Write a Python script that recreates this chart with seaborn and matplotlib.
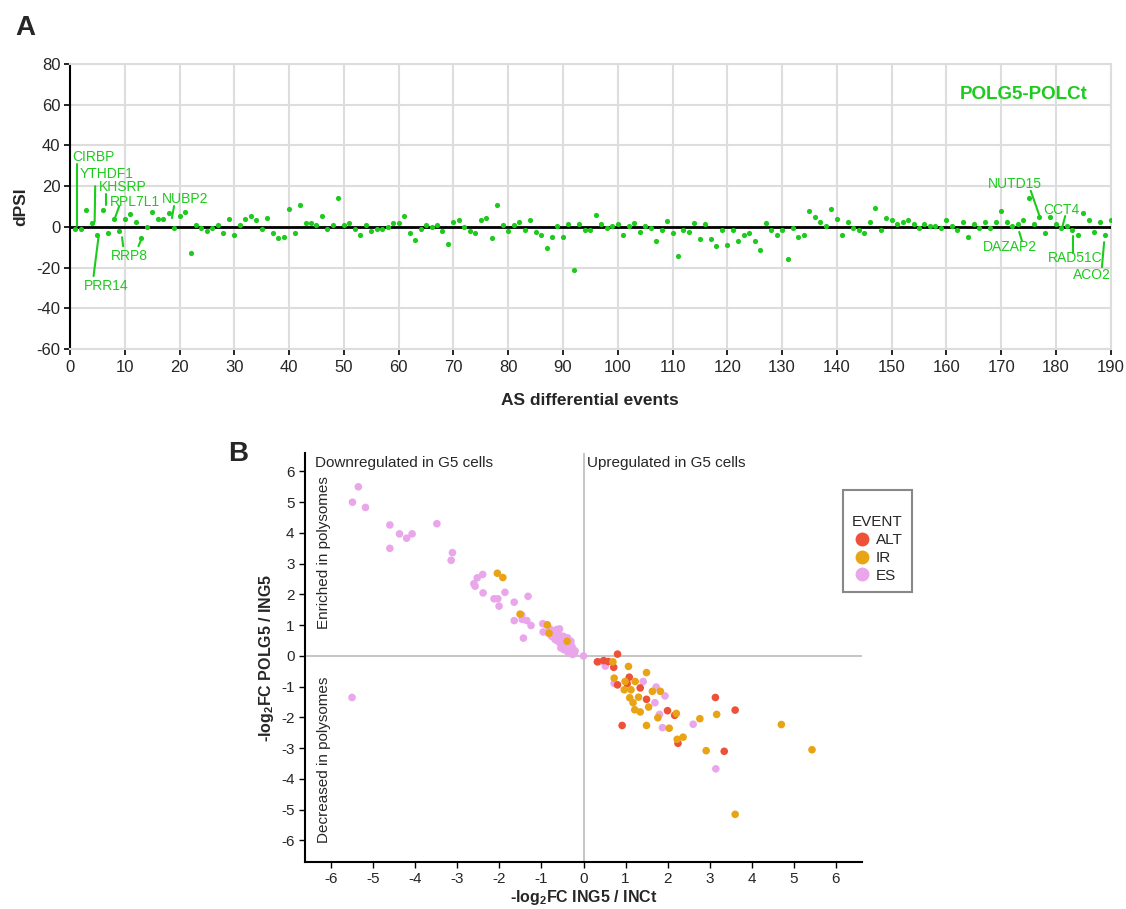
import numpy as np
import pandas as pd
import seaborn as sns
import matplotlib.pyplot as plt
from matplotlib.lines import Line2D

# ---- panel A data: dPSI per AS differential event (1..190)
dpsi = [-1, -1, 8.3, 1.7, -3.8, 8.3, -2.8, 3.7, -2, 3.7,
        6.3, 2.5, -5.3, -0.3, 7.2, 3.7, 3.7, 7, -0.8, 5.3,
        7.5, -13, 0.8, -0.8, -2, -0.8, 0.8, -2.8, 3.7, -4.2,
        0.8, 3.7, 5.4, 3.5, -1.2, 4.5, -2.8, -5.6, -4.8, 8.8,
        -2.8, 10.7, 1.7, 1.7, 0.8, 5.3, -1.2, 0.8, 14.4, 0.8,
        1.7, -1.2, -3.8, 0.8, -2, -1.2, -1.2, -0.2, 1.7, 1.7,
        5.3, -2.8, -6.6, -1.2, 0.8, -0.2, 0.8, -2, -8.4, 2.5,
        3.5, -0.2, -2, -2.8, 3.5, 4.5, -5.6, 10.7, 0.8, -2,
        0.8, 2.5, -1.3, 3.2, -2.3, -4.1, -10.6, -5, 0.5, -5,
        1.3, -21.3, 1.3, -1.5, -1.5, 6, 1.3, -0.5, 0.5, 1.3,
        -4.1, 0.5, 2.1, -2.3, 0.5, -0.5, -6.9, -1.5, 3.1, -3.1,
        -14.2, -1.5, -2.3, 2.1, -6, 1.3, -6, -9.6, -1.5, -8.8,
        -1.5, -6.9, -4.1, -3.1, -6.9, -11.4, 2.1, -1.5, -4.1, -1.5,
        -16, -0.5, -4.8, -4.2, 7.7, 5, 2.3, 0.5, 8.7, 4,
        -4.2, 2.3, -0.5, -1.3, -3.2, 2.3, 9.5, -1.3, 4.2, 3.2,
        1.3, 2.3, 3.2, 1.3, -0.5, 1.3, 0.5, 0.5, -0.5, 3.2,
        0.5, -1.3, 2.3, -5, 1.3, -0.5, 2.3, -0.5, 2.3, 7.8,
        2.3, 0.5, 1.3, 3.2, 14.2, 1.3, 5, -3.2, 5, 1.3,
        -0.5, 0.5, -1.3, -4.2, 6.8, 3.2, -2.3, 2.3, -4.2, 3.2]
events = list(range(1, len(dpsi) + 1))

gene_names = ['CIRBP', 'YTHDF1', 'KHSRP', 'RPL7L1', 'NUBP2', 'PRR14', 'RRP8',
              'NUTD15', 'CCT4', 'DAZAP2', 'RAD51C', 'ACO2']
# label anchor (left, centre) and leader lines, in data units
label_pos = [(0.5, 34.5), (1.8, 26.1), (5.3, 19.5), (7.3, 12.1), (16.8, 13.9),
             (2.6, -29.1), (7.5, -14.4), (167.6, 21.2), (177.7, 8.4),
             (166.6, -10.0), (178.6, -15.4), (183.1, -23.7)]
leaders = [[((1.2, 0.5), (1.2, 30.8))],
           [((4.5, 2.5), (4.6, 20.0))],
           [((6.5, 10.7), (6.5, 16.1))],
           [((9.0, 10.2), (8.2, 4.3))],
           [((19.0, 10.2), (18.6, 4.3))],
           [((5.2, -5.1), (4.3, -24.2))],
           [((9.5, -5.1), (9.7, -9.5)), ((13.1, -5.6), (12.5, -9.5))],
           [((175.4, 17.7), (177.0, 5.4))],
           [((181.7, 5.3), (181.2, 0.3))],
           [((173.3, -2.5), (173.8, -6.9))],
           [((183.1, -4.7), (183.1, -12.6))],
           [((188.8, -7.5), (188.4, -19.8))]]

# ---- panel B data
es_x = [-5.50, -5.36, -5.19, -4.61, -4.61, -4.38, -4.21, -4.08, -3.49, -3.12,
        -3.15, -2.61, -2.58, -2.53, -2.40, -2.39, -2.13, -2.04, -2.01, -1.87,
        -1.65, -1.32, -1.65, -1.47, -1.46, -1.35, -1.25, -1.43, -0.97, -0.88,
        -0.96, -0.80, -0.72, -0.64, -0.57, -0.68, -0.56, -0.48, -0.44, -0.38,
        -0.34, -0.28, -0.24, -0.26, -0.32, -0.40, -0.50, -0.57, -0.64, -0.76,
        -0.84, -0.54, -0.36, -0.30, -0.42, -0.20, -0.48, -0.57, -0.27, -0.22,
        -0.60, -0.70, -0.46, -0.38, 0.00, 0.38, 0.52, 0.73, 1.42, 1.73,
        1.94, 1.70, 1.81, 1.88, 2.61, 3.15, -5.51]
es_y = [5.00, 5.50, 4.83, 4.26, 3.50, 3.97, 3.83, 3.97, 4.30, 3.36,
        3.11, 2.35, 2.27, 2.54, 2.65, 2.05, 1.86, 1.86, 1.62, 2.07,
        1.75, 1.94, 1.15, 1.33, 1.19, 1.15, 0.99, 0.58, 1.05, 1.01,
        0.78, 0.88, 0.70, 0.86, 0.88, 0.54, 0.59, 0.64, 0.48, 0.59,
        0.43, 0.32, 0.21, 0.05, 0.16, 0.26, 0.34, 0.43, 0.51, 0.64,
        0.75, 0.26, 0.10, 0.48, 0.43, 0.16, 0.48, 0.66, 0.25, 0.08,
        0.75, 0.80, 0.20, 0.34, 0.00, -0.19, -0.33, -0.89, -0.83, -1.01,
        -1.30, -1.52, -1.90, -2.33, -2.22, -3.67, -1.35]
ir_x = [-2.05, -1.92, -1.51, -0.86, -0.82, -0.39, 0.70, 1.07, 1.50, 0.73,
        0.99, 1.23, 0.97, 1.13, 1.64, 1.83, 1.10, 1.31, 1.18, 1.55,
        1.22, 1.35, 2.21, 1.77, 2.77, 3.17, 1.50, 2.04, 2.37, 2.23,
        2.92, 4.71, 5.44, 3.61]
ir_y = [2.69, 2.55, 1.36, 1.01, 0.74, 0.48, -0.19, -0.34, -0.54, -0.72,
        -0.83, -0.83, -1.10, -1.10, -1.15, -1.15, -1.36, -1.34, -1.52, -1.66,
        -1.75, -1.82, -1.87, -2.01, -2.04, -1.90, -2.26, -2.35, -2.64, -2.71,
        -3.08, -2.23, -3.05, -5.15]
alt_x = [0.81, 0.33, 0.48, 0.59, 0.72, 1.09, 0.81, 1.04, 1.35, 1.50,
         2.00, 2.17, 0.92, 3.14, 3.61, 2.25, 3.35]
alt_y = [0.06, -0.19, -0.15, -0.18, -0.37, -0.69, -0.94, -0.90, -1.04, -1.41,
         -1.78, -1.93, -2.26, -1.35, -1.76, -2.84, -3.10]
event_types = ['ALT', 'IR', 'ES']
event_colors = ['#EE5038', '#E8A415', '#E9A6EA']

sns.set_theme(style='whitegrid')
plt.rcParams['font.family'] = ['Liberation Sans', 'DejaVu Sans']
plt.rcParams['axes.unicode_minus'] = False
plt.rcParams['mathtext.fontset'] = 'custom'
plt.rcParams['mathtext.rm'] = 'Liberation Sans'
plt.rcParams['mathtext.bf'] = 'Liberation Sans:bold'

green = '#1CCB1C'
W, H = 1126, 909
fig = plt.figure(figsize=(W / 100, H / 100), dpi=100)

# ================= panel A
axA = fig.add_axes([70 / W, 1 - 349 / H, (1110.7 - 70) / W, (349 - 64) / H])
sns.scatterplot(x=events, y=dpsi, ax=axA, color=green, s=14, linewidth=0, zorder=4)
axA.axhline(0, color='black', lw=2, zorder=3)
axA.set_xlim(0, 190)
axA.set_ylim(-60, 80)
axA.set_xticks(range(0, 191, 10))
axA.set_yticks(range(-60, 81, 20))
axA.grid(True, color='#DDDDDD', lw=1.5)
for s in ['top', 'right', 'bottom']:
    axA.spines[s].set_color('#DDDDDD')
    axA.spines[s].set_linewidth(1.5)
axA.spines['left'].set_color('black')
axA.spines['left'].set_linewidth(1.5)
axA.tick_params(axis='y', left=True, length=4, width=1.2, color='black', labelsize=12, pad=3)
axA.tick_params(axis='x', bottom=True, length=4, width=1.2, color='black', labelsize=12, pad=4)
axA.set_xlabel('AS differential events', fontsize=12.5, fontweight='bold', labelpad=13)
axA.set_ylabel('dPSI', fontsize=12.5, fontweight='bold', labelpad=6)
axA.text(162.5, 65, 'POLG5-POLCt', color=green, fontsize=13.5, fontweight='bold',
         va='center', ha='left')
for name, (tx, ty), segs in zip(gene_names, label_pos, leaders):
    axA.text(tx, ty, name, color=green, fontsize=10, va='center', ha='left', zorder=5)
    for (x0, y0), (x1, y1) in segs:
        axA.plot([x0, x1], [y0, y1], color=green, lw=1.5, zorder=5)

# ================= panel B
df = pd.concat([
    pd.DataFrame({'x': es_x, 'y': es_y, 'EVENT': 'ES'}),
    pd.DataFrame({'x': alt_x, 'y': alt_y, 'EVENT': 'ALT'}),
    pd.DataFrame({'x': ir_x, 'y': ir_y, 'EVENT': 'IR'}),
], ignore_index=True)

axB = fig.add_axes([305 / W, 1 - 862 / H, (862 - 305) / W, (862 - 453) / H])
axB.axhline(0, color='#BBBBBB', lw=1.2, zorder=1)
axB.axvline(0, color='#BBBBBB', lw=1.2, zorder=1)
sns.scatterplot(data=df, x='x', y='y', hue='EVENT', hue_order=event_types,
                palette=event_colors, s=30, linewidth=0, ax=axB, zorder=3)
axB.set_xlim(-6.63, 6.63)
axB.set_ylim(-6.7, 6.6)
axB.set_xticks(range(-6, 7))
axB.set_yticks(range(-6, 7))
axB.grid(False)
axB.spines['top'].set_visible(False)
axB.spines['right'].set_visible(False)
for s in ['left', 'bottom']:
    axB.spines[s].set_color('black')
    axB.spines[s].set_linewidth(1.5)
axB.tick_params(left=True, bottom=True, length=4, width=1, color='black', labelsize=11)
axB.set_xlabel(r'-log$_\mathbf{2}$FC ING5 / INCt', fontsize=11.5, fontweight='bold', labelpad=1)
axB.set_ylabel(r'-log$_\mathbf{2}$FC POLG5 / ING5', fontsize=11.5, fontweight='bold', labelpad=4)
axB.text(-6.39, 6.28, 'Downregulated in G5 cells', fontsize=11, va='center', ha='left')
axB.text(0.08, 6.28, 'Upregulated in G5 cells', fontsize=11, va='center', ha='left')
axB.text(-6.18, 3.36, 'Enriched in polysomes', fontsize=11, rotation=90, va='center', ha='center')
axB.text(-6.18, -3.39, 'Decreased in polysomes', fontsize=11, rotation=90, va='center', ha='center')

handles = [Line2D([], [], marker='o', ls='', markersize=10, markerfacecolor=c,
                  markeredgewidth=0) for c in event_colors]
leg = axB.legend(handles, event_types, title='\nEVENT', loc='upper left',
                 bbox_to_anchor=(843 / W, 1 - 490 / H), bbox_transform=fig.transFigure,
                 frameon=True, fancybox=False, edgecolor='#888888', framealpha=1,
                 fontsize=11, title_fontsize=11, borderpad=0.6, labelspacing=0.25,
                 handletextpad=0.3, handlelength=1.2, borderaxespad=0)
leg.get_frame().set_linewidth(1.5)

fig.text(15 / W, 1 - 28 / H, 'A', fontsize=20, fontweight='bold', va='center')
fig.text(228 / W, 1 - 454 / H, 'B', fontsize=20, fontweight='bold', va='center')

fig.savefig('out.png', dpi=100)
